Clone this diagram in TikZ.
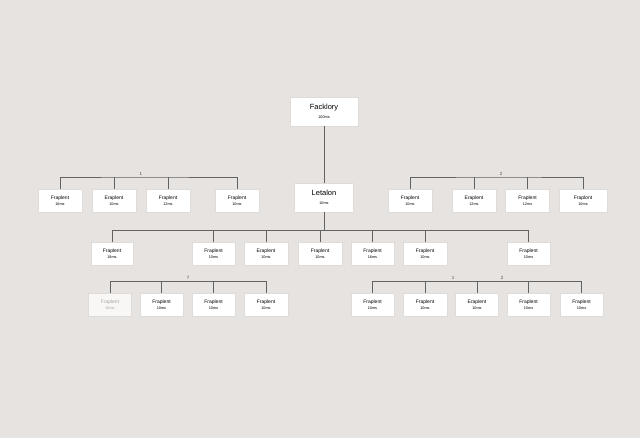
\documentclass[tikz,border=0pt]{standalone}
\usepackage{fontspec}
\setmainfont{Liberation Sans}
\definecolor{bgpaper}{HTML}{E6E3E1}
\definecolor{wire}{HTML}{626262}
\definecolor{rim}{HTML}{DEDBD9}
\newcommand{\msline}[1]{{\fontsize{3.8}{4}\selectfont #1}}

\begin{document}
\begin{tikzpicture}[x=1pt,y=-1pt,
    leaf/.style={draw=rim,line width=0.2pt,fill=white,minimum width=44pt,minimum height=23pt,
      inner sep=0pt,align=center,font=\fontsize{5}{6.5}\selectfont},
    faded/.style={leaf,fill=white!70!bgpaper,text=black!35},
    head/.style={leaf,font=\fontsize{7.5}{9.5}\selectfont},
    wires/.style={wire,line width=0.8pt},
    tag/.style={font=\fontsize{4.5}{4.5}\selectfont,text=black!70,inner sep=0pt}]
    \fill[bgpaper] (0,0) rectangle (640,438);
    \useasboundingbox (0,0) rectangle (640,438);

    \node[head,minimum width=68pt,minimum height=29pt] (root) at (324,111.5) {Facklory\\\msline{100ms}};
    \node[head,minimum width=59pt,minimum height=29pt] (mid) at (324,197.5) {Letalon\\\msline{10ms}};

    \node[leaf] (a1) at (60,200.5) {Fraplent\\\msline{16ms}};
    \node[leaf] (a2) at (114,200.5) {Eraplent\\\msline{10ms}};
    \node[leaf] (a3) at (168,200.5) {Fraplent\\\msline{12ms}};
    \node[leaf] (a4) at (237,200.5) {Fraplent\\\msline{10ms}};

    \node[leaf] (b1) at (410,200.5) {Fraplent\\\msline{10ms}};
    \node[leaf] (b2) at (474,200.5) {Eraplent\\\msline{12ms}};
    \node[leaf] (b3) at (527.5,200.5) {Fraplent\\\msline{12ms}};
    \node[leaf,minimum width=48pt] (b4) at (583,200.5) {Fraplont\\\msline{10ms}};

    \node[leaf,minimum width=42pt] (c1) at (112,253.5) {Fraplent\\\msline{18ms}};
    \node[leaf,minimum width=43pt] (c2) at (213.5,253.5) {Fraplent\\\msline{10ms}};
    \node[leaf] (c3) at (266,253.5) {Eraplent\\\msline{10ms}};
    \node[leaf] (c4) at (320,253.5) {Fraplent\\\msline{10ms}};
    \node[leaf,minimum width=43pt] (c5) at (372.5,253.5) {Fraplent\\\msline{16ms}};
    \node[leaf] (c6) at (425,253.5) {Fraplent\\\msline{10ms}};
    \node[leaf,minimum width=43pt] (c7) at (528.5,253.5) {Fraplent\\\msline{10ms}};

    \node[faded,minimum width=43pt] (d1) at (110,304.5) {Fraplent\\\msline{10ms}};
    \node[leaf,minimum width=43pt] (d2) at (161.5,304.5) {Fraplent\\\msline{10ms}};
    \node[leaf,minimum width=43pt] (d3) at (213.5,304.5) {Fraplent\\\msline{10ms}};
    \node[leaf] (d4) at (266,304.5) {Fraplent\\\msline{10ms}};

    \node[leaf,minimum width=43pt] (e1) at (372.5,304.5) {Fraplent\\\msline{10ms}};
    \node[leaf] (e2) at (425,304.5) {Fraplent\\\msline{10ms}};
    \node[leaf,minimum width=43pt] (e3) at (477,304.5) {Eraplent\\\msline{10ms}};
    \node[leaf,minimum width=43pt] (e4) at (528.5,304.5) {Fraplent\\\msline{10ms}};
    \node[leaf,minimum width=43pt] (e5) at (581.5,304.5) {Fraplent\\\msline{10ms}};

    \coordinate (busa) at (141,177);
    \coordinate (busb) at (501,177);
    \coordinate (busc) at (324,230.5);
    \coordinate (busd) at (188,281.5);
    \coordinate (buse) at (477,281.5);

    \node[tag,above=1.5pt] (taga) at (busa) {1};
    \node[tag,above=1.5pt] (tagb) at (busb) {2};
    \node[tag,above=1.5pt] (tagd) at (busd) {7};
    \node[tag,above=1.5pt] (tage1) at (453,281.5) {1};
    \node[tag,above=1.5pt] (tage2) at (502,281.5) {2};

    \draw[wires] (root) -- (mid);

    \draw[wires] (a1.north) |- (busa) -| (a4.north);
    \draw[wires] (a2.north) -- (a2.north |- busa);
    \draw[wires] (a3.north) -- (a3.north |- busa);

    \draw[wires] (b1.north) |- (busb) -| (b4.north);
    \draw[wires] (b2.north) -- (b2.north |- busb);
    \draw[wires] (b3.north) -- (b3.north |- busb);

    \draw[wires] (mid.south) -- (busc);
    \draw[wires] (c1.north) |- (busc) -| (c7.north);
    \draw[wires] (c2.north) -- (c2.north |- busc);
    \draw[wires] (c3.north) -- (c3.north |- busc);
    \draw[wires] (c4.north) -- (c4.north |- busc);
    \draw[wires] (c5.north) -- (c5.north |- busc);
    \draw[wires] (c6.north) -- (c6.north |- busc);

    \draw[wires] (d1.north) |- (busd) -| (d4.north);
    \draw[wires] (d2.north) -- (d2.north |- busd);
    \draw[wires] (d3.north) -- (d3.north |- busd);

    \draw[wires] (e1.north) |- (buse) -| (e5.north);
    \draw[wires] (e2.north) -- (e2.north |- buse);
    \draw[wires] (e3.north) -- (e3.north |- buse);
    \draw[wires] (e4.north) -- (e4.north |- buse);
\end{tikzpicture}
\end{document}
